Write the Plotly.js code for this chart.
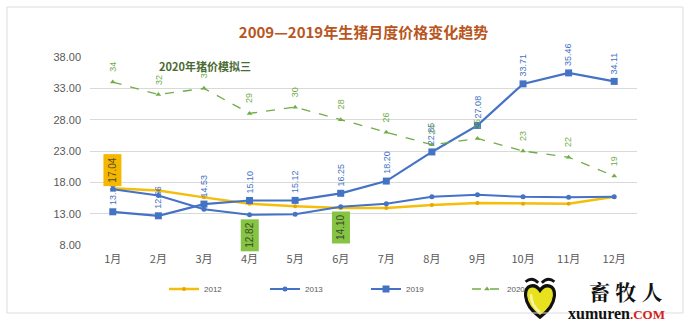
<!DOCTYPE html>
<html>
<head>
<meta charset="utf-8">
<script src="https://cdn.plot.ly/plotly-3.0.1.min.js"></script>
<style>html,body{margin:0;padding:0;background:#fff;}#chart{width:691px;height:322px;}</style>
</head>
<body>
<div id="chart"></div>
<script>
// ---- data ----
var months = ['1月','2月','3月','4月','5月','6月','7月','8月','9月','10月','11月','12月'];
var y2012 = [17.04, 16.7, 15.6, 14.6, 14.2, 13.9, 13.9, 14.4, 14.7, 14.6, 14.6, 15.7];
var y2013 = [16.9, 15.9, 13.7, 12.82, 12.9, 14.10, 14.6, 15.7, 16.0, 15.7, 15.6, 15.7];
var y2019 = [13.30, 12.66, 14.53, 15.10, 15.12, 16.25, 18.20, 22.85, 27.08, 33.71, 35.46, 34.11];
var y2020 = [34, 32, 33, 29, 30, 28, 26, 24, 25, 23, 22, 19];
var seriesNames = ['2012', '2013', '2019', '2020'];
var yTicks = [8, 13, 18, 23, 28, 33, 38];

// ---- geometry helpers (pixel -> paper) ----
var W = 691, H = 322, ML = 90, MR = 54, MT = 57, MB = 77;
var PW = W - ML - MR, PH = H - MT - MB;
function px(x) { return (x - ML) / PW; }
function py(y) { return (H - MB - y) / PH; }

var cYellow = '#F5BE0B', cBlue = '#4472C4', cGreen = '#70AD47';
var numFont = 'Liberation Sans, Arial, sans-serif';
var cjk = 'Noto Sans CJK SC, sans-serif';

var traces = [
  {x: months, y: y2012, name: seriesNames[0], type: 'scatter', mode: 'lines+markers',
   line: {color: cYellow, width: 2.5}, marker: {color: '#E6A800', size: 4, symbol: 'circle'}},
  {x: months, y: y2013, name: seriesNames[1], type: 'scatter', mode: 'lines+markers',
   line: {color: cBlue, width: 2}, marker: {color: cBlue, size: 5, symbol: 'circle'}},
  {x: months, y: y2019, name: seriesNames[2], type: 'scatter', mode: 'lines+markers',
   line: {color: cBlue, width: 2.2}, marker: {color: cBlue, size: 7, symbol: 'square'}},
  {x: months, y: y2020, name: seriesNames[3], type: 'scatter', mode: 'lines+markers',
   line: {color: cGreen, width: 1.3, dash: 'dash'}, marker: {color: cGreen, size: 5, symbol: 'triangle-up'}}
];

var annotations = [];
// 2019 labels (rotated)
months.forEach(function (m, i) {
  annotations.push({x: m, y: y2019[i], xref: 'x', yref: 'y', text: y2019[i].toFixed(2),
    showarrow: false, textangle: -90, xanchor: 'center', yanchor: 'bottom', yshift: 5,
    font: {family: numFont, size: 9, color: cBlue}});
});
// 2020 labels (rotated)
months.forEach(function (m, i) {
  annotations.push({x: m, y: y2020[i], xref: 'x', yref: 'y', text: String(y2020[i]),
    showarrow: false, textangle: -90, xanchor: 'center', yanchor: 'bottom', yshift: 8,
    font: {family: numFont, size: 9, color: cGreen}});
});
// highlighted labels
annotations.push({x: months[0], y: y2012[0], xref: 'x', yref: 'y', text: y2012[0].toFixed(2),
  showarrow: false, textangle: -90, xanchor: 'center', yanchor: 'bottom', yshift: 2, bgcolor: '#F5B800', borderpad: 3,
  font: {family: numFont, size: 10, color: '#5a4a1a'}});
annotations.push({x: months[3], y: y2013[3], xref: 'x', yref: 'y', text: y2013[3].toFixed(2),
  showarrow: false, textangle: -90, xanchor: 'center', yanchor: 'top', yshift: -4, bgcolor: '#86C443', borderpad: 3,
  font: {family: numFont, size: 10, color: '#3a4a2a'}});
annotations.push({x: months[5], y: y2013[5], xref: 'x', yref: 'y', text: y2013[5].toFixed(2),
  showarrow: false, textangle: -90, xanchor: 'center', yanchor: 'top', yshift: -4, bgcolor: '#86C443', borderpad: 3,
  font: {family: numFont, size: 10, color: '#3a4a2a'}});
// subtitle
annotations.push({x: px(205), y: py(66), xref: 'paper', yref: 'paper', xanchor: 'center', yanchor: 'middle',
  text: '<b>2020年猪价模拟三</b>',
  showarrow: false, font: {family: cjk, size: 11, color: '#4B6B34'}});
// watermark text
annotations.push({x: px(626), y: py(291), xref: 'paper', yref: 'paper', xanchor: 'center', yanchor: 'middle',
  text: '<b>畜 牧 人</b>',
  showarrow: false, font: {family: 'Noto Serif CJK SC, Noto Sans CJK SC, serif', size: 21, color: '#111'}});
annotations.push({x: px(566), y: py(313), xref: 'paper', yref: 'paper', xanchor: 'left', yanchor: 'middle',
  text: '<b>xumuren</b><b><span style="color:#D42020;font-size:13px">.COM</span></b>',
  showarrow: false, font: {family: 'Liberation Serif, DejaVu Serif, serif', size: 16, color: '#111'}});

var heartSvg = '<svg xmlns="http://www.w3.org/2000/svg" width="40" height="44" viewBox="0 0 40 44">' +
  '<path d="M4 5 Q11 -1 18 6" stroke="#111" stroke-width="3" fill="none"/>' +
  '<path d="M22 6 Q29 -1 36 5" stroke="#111" stroke-width="3" fill="none"/>' +
  '<path d="M20 14 C14 6 3 8 4 20 C5 30 14 38 20 42 C26 38 35 30 36 20 C37 8 26 6 20 14 Z" fill="#E8E21E" stroke="#111" stroke-width="3.5"/>' +
  '<path d="M10 18 C10 28 16 34 20 37" stroke="#F7F3A0" stroke-width="3" fill="none"/>' +
  '</svg>';

var layout = {
  width: W, height: H,
  margin: {l: ML, r: MR, t: MT, b: MB},
  paper_bgcolor: '#fff', plot_bgcolor: '#fff',
  title: {text: '<b>2009—2019年生猪月度价格变化趋势</b>', x: 0.5, xref: 'paper', xanchor: 'center',
    y: 1 - 33 / H, yanchor: 'middle', font: {family: cjk, size: 15, color: '#B8561E'}},
  xaxis: {type: 'category', range: [-0.5, 11.5], showgrid: false, zeroline: false, showline: false,
    ticks: '', ticklabelstandoff: 6, tickfont: {family: cjk, size: 11, color: '#595959'}, fixedrange: true},
  yaxis: {range: [8, 38], tickvals: yTicks, tickformat: '.2f', showgrid: true, gridcolor: '#D9D9D9',
    gridwidth: 1, zeroline: false, showline: false, ticks: '', ticklabelstandoff: 8,
    tickfont: {family: numFont, size: 11, color: '#595959'}, fixedrange: true},
  showlegend: true,
  legend: {orientation: 'h', x: px(164), xanchor: 'left', y: py(289), yanchor: 'middle',
    entrywidth: 56, itemwidth: 30, font: {family: numFont, size: 8, color: '#595959'},
    bgcolor: 'rgba(0,0,0,0)'},
  annotations: annotations,
  shapes: [{type: 'rect', xref: 'paper', yref: 'paper', x0: px(7), x1: px(683), y0: py(313), y1: py(7),
    line: {color: '#DCDCDC', width: 1}, fillcolor: 'rgba(0,0,0,0)', layer: 'below'}],
  images: [{source: 'data:image/svg+xml;charset=utf-8,' + encodeURIComponent(heartSvg),
    xref: 'paper', yref: 'paper', x: px(522), y: py(277), sizex: px(558) - px(522), sizey: py(277) - py(319),
    xanchor: 'left', yanchor: 'top', sizing: 'stretch', layer: 'below'}]
};

Plotly.newPlot('chart', traces, layout, {displayModeBar: false, staticPlot: true});
</script>
</body>
</html>
